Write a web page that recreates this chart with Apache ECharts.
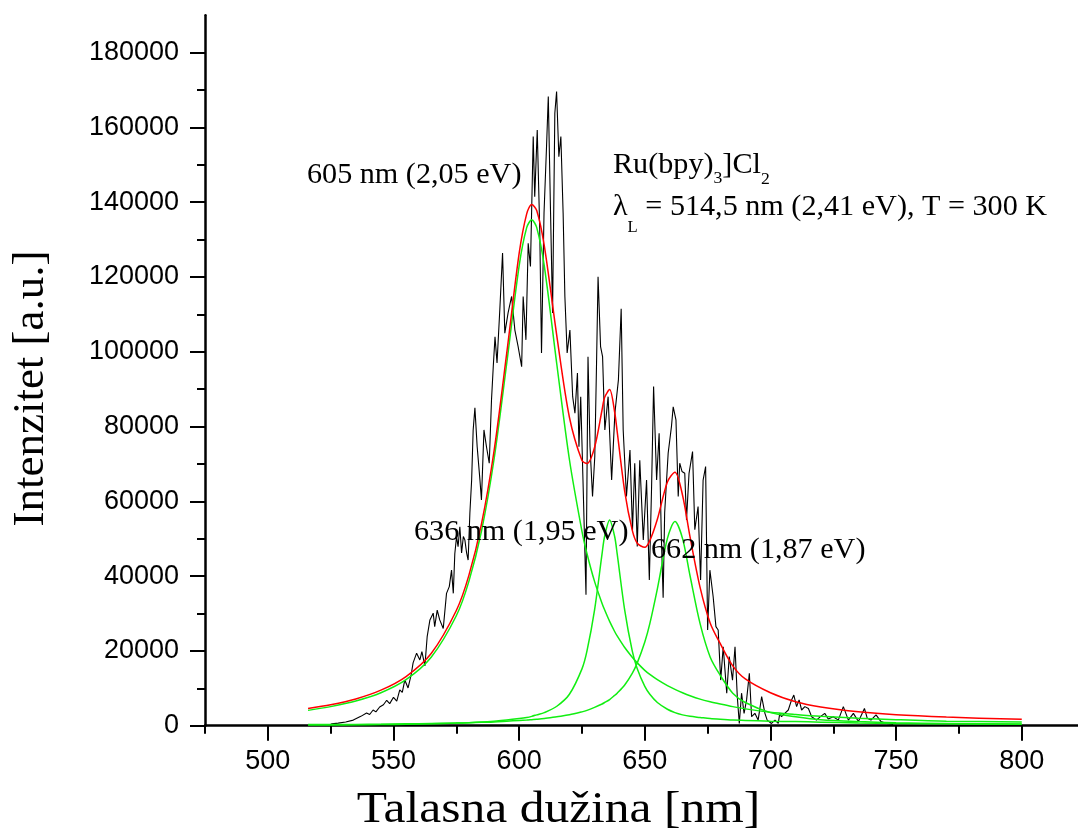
<!DOCTYPE html>
<html><head><meta charset="utf-8">
<script src="https://cdn.jsdelivr.net/npm/echarts@6/dist/echarts.min.js"></script>
<style>html,body{margin:0;padding:0;background:#fff}#c{width:1078px;height:832px}</style>
</head><body><div id="c"></div>
<script>
// Measured spectrum (wavelength nm / intensity a.u.)
const measX = [524,525.5,528,531,534,537,539.3,540.5,541.9,543,544.5,546,547.3,548.5,550,551.3,552.5,553.5,554.5,555.8,557,557.8,559.2,560.5,561.3,562.5,563.4,564.5,565.8,566.4,567.4,568.4,569.8,571.1,572.2,573.1,573.8,574.4,575.1,575.7,576.4,577.1,577.8,578.4,579.1,579.7,580.4,581.1,581.7,582.4,583.3,584.4,585,586,587,588.1,589,589.7,590.4,591.2,592.3,593.4,594.3,595.6,597,598.3,599.6,601,601.6,602.7,603.6,604.5,605.6,606.2,607.2,608.2,608.9,609.9,610.9,611.6,612.5,613.3,614.2,614.9,615.8,616.6,617.5,618.2,619.1,620.2,621.3,622.2,623.2,623.8,624.5,625.4,626.6,627.4,628.2,629.2,630.1,630.8,631.4,632.4,633.2,634.1,635.4,636.8,638.1,639.5,640.6,641.4,642.7,644.1,645.1,646,647,648,649.4,650.7,651.8,652.7,653.5,654.7,655.7,656.6,657.3,657.9,659.3,660.6,661.3,662.4,663.3,663.9,664.8,665.9,666.6,667.6,669,669.9,671.2,672.2,673.2,674.2,675,675.9,677.2,678.3,679.2,680.2,681.2,682.6,683.6,684.9,685.9,686.8,687.6,688.5,689.5,690.5,691.6,692.5,693.8,695.1,696.5,697.8,698.7,700.4,701.8,703.1,703.7,704.4,705.7,707.1,708.4,709.3,710.4,711.4,712.4,713.7,715.1,715.7,716.4,718.3,720,721.6,723,725,727,729,731,733,735,737.4,738.5,740,742,744,746.2,748.8];
const measY = [0,500,700,1000,1500,2500,3400,3000,4200,3700,5000,5600,6800,5900,7600,6600,9600,8900,12200,10100,13500,16800,19400,17600,19800,16000,23800,28300,30100,26500,30900,28300,26000,35400,37200,41600,35400,46000,50600,47900,53200,46200,50600,49700,46200,44300,56900,65700,79000,85000,74600,65700,60400,79100,74600,70200,87100,96000,104000,97000,111200,126400,105000,110400,114800,105800,101400,96000,114800,103200,129000,122800,157600,141500,159300,132600,99700,137100,154900,168300,137100,110400,163800,169600,152200,157600,137100,114800,99700,105800,88000,83600,94300,74600,88000,65700,35000,98700,74600,61300,72000,97000,120100,101400,98700,79100,88000,65700,83600,92500,111500,79100,61300,73700,52300,70200,47900,71000,49700,65700,39000,63900,90700,65700,78200,50000,34200,56900,72900,80000,85300,81800,61300,70200,68000,67500,55000,67500,73300,52400,58600,39000,65700,69300,25600,41600,34500,26500,25600,12200,21100,8700,18500,12200,21100,7800,600,8700,3300,6900,14000,2400,3300,1500,7800,3300,1500,600,1500,600,3300,2400,3300,4200,6900,8200,5100,6900,4200,5100,4600,5100,2400,1500,2500,3300,1800,2400,1500,5100,1500,3300,1100,4600,2000,1500,2900,1100,600,300];

// Fitted peaks (wavelength nm / intensity a.u.)
const fitX = [516,525,535,545,555,565,575,580,585,590,595,600,603,605,607,610,615,620,625,627,630,633,634,636,638,639,642,645,647,650,652,655,659,662,665,668,672,676,680,685,690,700,710,720,735,750,770,800];
const peak605 = [4100,5100,6600,8800,12300,18300,29400,38600,52000,71200,96600,123000,133200,135300,133200,123000,96600,71200,52000,46000,38600,32700,31000,27900,25200,24000,20900,18300,16800,14800,13700,12300,10700,9700,8800,8000,7100,6400,5800,5100,4500,3600,3000,2500,2000,1600,1200,1000];
const peak636 = [200,200,250,300,400,500,700,800,960,1200,1500,1900,2200,2500,2900,3500,5200,8400,15200,20000,30900,46000,50600,55000,50600,46000,30900,20000,15200,10500,8400,6200,4400,3500,2900,2500,2200,1900,1700,1500,1400,1200,1100,950,750,600,500,400];
const peak662 = [300,300,350,400,500,600,700,800,900,1000,1200,1400,1500,1600,1700,1900,2400,2900,3700,4100,4900,5800,6200,7000,8100,8700,10900,14000,16800,22400,27300,36600,50100,54600,50100,40100,27300,18400,13500,8700,6200,3500,2400,1600,1100,800,600,450];
const fitSum = [4600,5600,7150,9500,13150,19300,30800,40200,53900,73400,99300,126300,136900,139400,137800,128400,104200,82500,70900,70100,74400,84500,87800,89900,83900,78700,62700,52300,48800,47700,49500,55200,65200,67800,61700,50500,37000,27500,22000,16000,12500,8800,6400,5000,3700,2900,2300,1700];

// Axis ticks
const xMajorTicks = [500,550,600,650,700,750,800];
const xMinorTicks = [475,525,575,625,675,725,775,825];
const yMajorTicks = [0,20000,40000,60000,80000,100000,120000,140000,160000,180000];
const yMinorTicks = [10000,30000,50000,70000,90000,110000,130000,150000,170000];

const pairs = (xs, ys) => xs.map((x, i) => [x, ys[i]]);

const chart = echarts.init(document.getElementById('c'), null, {renderer: 'canvas'});

const ctx = document.createElement('canvas').getContext('2d');
function tw(t, size) { ctx.font = size + 'px "Liberation Serif"'; return ctx.measureText(t).width; }
const SER = '"Liberation Serif", "Times New Roman", serif';
const sx = 1.04;
function txt(str, x, baseline, size, scale) {
  return {type: 'text', x: x, y: baseline - 0.3375 * size, scaleX: scale || 1, z: 100,
    style: {text: str, font: size + 'px ' + SER, fill: '#000', align: 'left', verticalAlign: 'middle'}};
}

const graphics = [];
graphics.push(txt('605 nm (2,05 eV)', 307, 185, 29, sx));
graphics.push(txt('636 nm (1,95 eV)', 414, 541.7, 29, sx));
graphics.push(txt('662 nm (1,87 eV)', 651, 560, 29, sx));
// Ru(bpy)3]Cl2
let xp = 613;
graphics.push(txt('Ru(bpy)', xp, 175, 29, sx)); xp += tw('Ru(bpy)', 29) * sx;
graphics.push(txt('3', xp, 184, 17, sx)); xp += tw('3', 17) * sx;
graphics.push(txt(']Cl', xp, 175, 29, sx)); xp += tw(']Cl', 29) * sx;
graphics.push(txt('2', xp, 185, 17, sx));
// lambda line
xp = 613;
graphics.push(txt('\u03bb', xp, 216.7, 29, sx)); xp += tw('\u03bb', 29) * sx;
graphics.push(txt('L', xp, 233, 16, sx)); xp += tw('L', 16) * sx;
graphics.push(txt(' = 514,5 nm (2,41 eV), T = 300 K', xp, 216.7, 29, sx));
// axis titles
graphics.push({type: 'text', x: 558.5, y: 810, scaleX: 1.1, z: 100,
  style: {text: 'Talasna dužina [nm]', font: '45px ' + SER, fill: '#000', align: 'center', verticalAlign: 'middle'}});
graphics.push({type: 'text', x: 31, y: 388.5, rotation: Math.PI / 2, z: 100,
  style: {text: 'Intenzitet [a.u.]', font: '45px ' + SER, fill: '#000', align: 'center', verticalAlign: 'middle'}});

const axisLineStyle = {color: '#000', width: 2.5};
const tickLabel = {fontSize: 27, fontFamily: '"Liberation Sans", Arial, sans-serif', color: '#000',
  formatter: v => String(v)};

const option = {
  animation: false,
  backgroundColor: '#fff',
  grid: {left: 205, right: -6.6, top: 15.3, bottom: 106.3, containLabel: false, outerBoundsMode: 'none'},
  xAxis: [
    {type: 'value', min: 475, max: 825, interval: 25, position: 'bottom',
      axisLine: {show: true, onZero: false, lineStyle: axisLineStyle},
      axisTick: {show: true, customValues: xMajorTicks, length: 15, lineStyle: {color: '#000', width: 2}},
      axisLabel: Object.assign({show: true, customValues: xMajorTicks, margin: 22}, tickLabel),
      splitLine: {show: false}},
    {type: 'value', min: 475, max: 825, interval: 25, position: 'bottom',
      axisLine: {show: false, onZero: false},
      axisTick: {show: true, customValues: xMinorTicks, length: 8, lineStyle: {color: '#000', width: 2}},
      axisLabel: {show: false}, splitLine: {show: false}}
  ],
  yAxis: [
    {type: 'value', min: 0, max: 190000, interval: 10000, position: 'left',
      axisLine: {show: true, onZero: false, lineStyle: axisLineStyle},
      axisTick: {show: true, customValues: yMajorTicks, length: 15, lineStyle: {color: '#000', width: 2}},
      axisLabel: Object.assign({show: true, customValues: yMajorTicks, margin: 26}, tickLabel),
      splitLine: {show: false}},
    {type: 'value', min: 0, max: 190000, interval: 10000, position: 'left',
      axisLine: {show: false, onZero: false},
      axisTick: {show: true, customValues: yMinorTicks, length: 8, lineStyle: {color: '#000', width: 2}},
      axisLabel: {show: false}, splitLine: {show: false}}
  ],
  series: [
    {type: 'line', name: 'measured', data: pairs(measX, measY), symbol: 'none', showSymbol: false,
      lineStyle: {color: '#000', width: 1.1}, z: 2},
    {type: 'line', name: '605', data: pairs(fitX, peak605), symbol: 'none', smooth: 0.3,
      lineStyle: {color: '#11ee11', width: 1.5}, z: 3},
    {type: 'line', name: '636', data: pairs(fitX, peak636), symbol: 'none', smooth: 0.3,
      lineStyle: {color: '#11ee11', width: 1.5}, z: 3},
    {type: 'line', name: '662', data: pairs(fitX, peak662), symbol: 'none', smooth: 0.3,
      lineStyle: {color: '#11ee11', width: 1.5}, z: 3},
    {type: 'line', name: 'fit', data: pairs(fitX, fitSum), symbol: 'none', smooth: 0.3,
      lineStyle: {color: '#ff0000', width: 1.5}, z: 4}
  ],
  graphic: graphics
};
chart.setOption(option);
</script>
</body></html>
